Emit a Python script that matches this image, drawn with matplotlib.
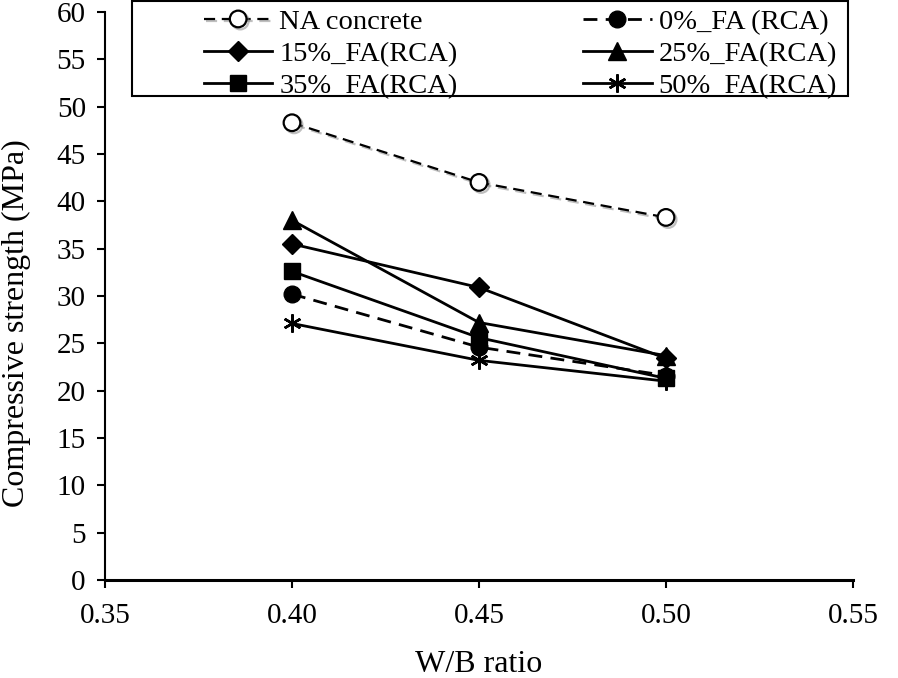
import matplotlib
matplotlib.use("Agg")
import matplotlib.pyplot as plt
import matplotlib.patheffects as pe
from matplotlib.patches import Rectangle

plt.rcParams['font.family'] = ['Liberation Serif', 'DejaVu Serif']

wb = [0.40, 0.45, 0.50]
na_concrete = [48.3, 42.0, 38.3]
fa0 = [30.2, 24.6, 21.6]
fa15 = [35.5, 30.9, 23.4]
fa25 = [38.0, 27.2, 23.7]
fa35 = [32.6, 25.6, 21.3]
fa50 = [27.1, 23.2, 21.0]

W, H = 898, 678
fig = plt.figure(figsize=(W/100, H/100), dpi=100)
ax = fig.add_axes([105/W, 1-580/H, (853-105)/W, (580-12)/H])

lw = 2.0
ms = 12
shadow = [pe.SimpleLineShadow(offset=(1.5, -1.5), shadow_color='gray', alpha=0.5), pe.Normal()]
h_na, = ax.plot(wb, na_concrete, linestyle=(0, (5, 3)), color='black', lw=1.6, marker='o', ms=ms,
                mfc='white', mec='black', mew=1.6, label='NA concrete', path_effects=shadow)
h0, = ax.plot(wb, fa0, linestyle=(0, (5, 3)), color='black', lw=lw, marker='o', ms=ms,
              mfc='black', mec='black', label='0%_FA (RCA)')
h15, = ax.plot(wb, fa15, '-', color='black', lw=lw, marker='D', ms=ms-2, label='15%_FA(RCA)')
h25, = ax.plot(wb, fa25, '-', color='black', lw=lw, marker='^', ms=ms+1, label='25%_FA(RCA)')
h35, = ax.plot(wb, fa35, '-', color='black', lw=lw, marker='s', ms=ms-1, label='35%_FA(RCA)')
h50, = ax.plot(wb, fa50, '-', color='black', lw=lw, marker=(6, 2, 0), ms=ms+1, mew=1.8, label='50%_FA(RCA)')

ax.set_xlim(0.35, 0.55)
ax.set_ylim(0, 60)
ax.set_xticks([0.35, 0.40, 0.45, 0.50, 0.55])
ax.set_xticklabels(['0.35', '0.40', '0.45', '0.50', '0.55'])
ax.set_yticks(range(0, 61, 5))
ax.tick_params(axis='both', direction='out', length=5.8, width=1.5, labelsize=21, colors='black')
ax.tick_params(axis='x', pad=11)
ax.tick_params(axis='y', pad=8)
for s in ['top', 'right']:
    ax.spines[s].set_visible(False)
ax.spines['left'].set_linewidth(1.5)
ax.spines['bottom'].set_linewidth(2.2)

ax.set_xlabel('W/B ratio', fontsize=23)
ax.set_ylabel('Compressive strength (MPa)', fontsize=23)
ax.xaxis.set_label_coords(0.5, (580-650)/568)
ax.yaxis.set_label_coords((31-105)/748, (580-323)/568)

# legend frame
fig.patches.append(Rectangle((132/W, 1-96/H), (848-132)/W, 95/H, transform=fig.transFigure,
                             fill=False, edgecolor='black', linewidth=1.5))
handles = [h_na, h15, h35, h0, h25, h50]
leg = fig.legend(handles, [h.get_label() for h in handles], ncol=2, loc='upper left',
                 bbox_to_anchor=(204/W, 1-94/H, (837-204)/W, 85/H),
                 bbox_transform=fig.transFigure, mode='expand', fontsize=20.5, frameon=False,
                 handlelength=2.4, handletextpad=0.25, labelspacing=0.21, borderpad=0.0,
                 borderaxespad=0)

fig.savefig('out.png', dpi=100)
